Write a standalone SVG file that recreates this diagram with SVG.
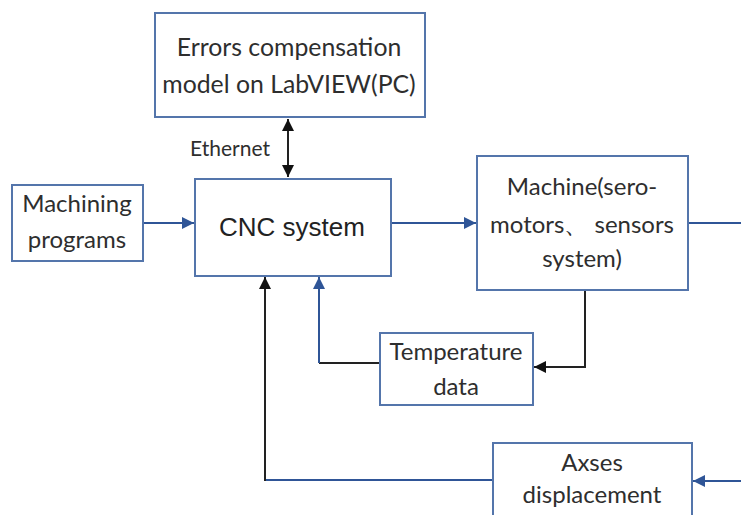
<svg xmlns="http://www.w3.org/2000/svg" width="741" height="515" viewBox="0 0 741 515">
<defs>
<style>
.box{fill:#fff;stroke:#5475ab;stroke-width:2}
.t{font-family:Lato,"Open Sans","Liberation Sans",sans-serif;fill:#2e2e2e;text-anchor:middle}
.a{font-family:"Liberation Sans",Arial,sans-serif;fill:#222;text-anchor:middle}
.bl{fill:none;stroke:#2f5597;stroke-width:2}
.bk{fill:none;stroke:#222;stroke-width:2}
</style>
<marker id="mbL" viewBox="0 0 10 10" refX="10" refY="5" markerWidth="14" markerHeight="12" markerUnits="userSpaceOnUse" orient="auto"><path d="M0,0L10,5L0,10z" fill="#2f5597"/></marker>
<marker id="mkL" viewBox="0 0 10 10" refX="10" refY="5" markerWidth="14" markerHeight="12" markerUnits="userSpaceOnUse" orient="auto"><path d="M0,0L10,5L0,10z" fill="#111"/></marker>
<marker id="mkS" viewBox="0 0 10 10" refX="0" refY="5" markerWidth="14" markerHeight="12" markerUnits="userSpaceOnUse" orient="auto"><path d="M10,0L0,5L10,10z" fill="#111"/></marker>
</defs>
<rect width="741" height="515" fill="#fff"/>
<g id="connectors">
<path class="bk" d="M288,119V177" marker-start="url(#mkS)" marker-end="url(#mkL)"/>
<text class="t" x="230" y="156" font-size="21">Ethernet</text>
<path class="bl" d="M143,223H194" marker-end="url(#mbL)"/>
<path class="bl" d="M391,223H476" marker-end="url(#mbL)"/>
<path class="bl" d="M688,223H741"/>
<path class="bk" d="M585,290V367H534" marker-end="url(#mkL)"/>
<path class="bk" d="M380,363H319"/>
<path class="bl" d="M319,363V277" marker-end="url(#mbL)"/>
<path class="bl" d="M493,480H265"/>
<path class="bk" d="M265,481V277" marker-end="url(#mkL)"/>
<path class="bl" d="M741,481H693" marker-end="url(#mbL)"/>
</g>
<g id="errors">
<rect class="box" x="155" y="13" width="270" height="104"/>
<text class="t" x="289" y="56" font-size="24.8">Errors compensation</text>
<text class="t" x="289" y="93" font-size="24.8">model on LabVIEW(PC)</text>
</g>
<g id="machining">
<rect class="box" x="12" y="185" width="131" height="76"/>
<text class="t" x="77" y="212" font-size="24">Machining</text>
<text class="t" x="77" y="248" font-size="24">programs</text>
</g>
<g id="cnc">
<rect class="box" x="195" y="179" width="196" height="97"/>
<text class="a" x="292" y="236" font-size="26">CNC system</text>
</g>
<g id="machine">
<rect class="box" x="477" y="156" width="211" height="134"/>
<text class="t" x="582" y="195" font-size="24">Machine(sero-</text>
<text class="t" x="582" y="233" font-size="24">motors、 sensors</text>
<text class="t" x="582" y="267" font-size="24">system)</text>
</g>
<g id="temperature">
<rect class="box" x="380" y="333" width="153" height="72"/>
<text class="t" x="456" y="360" font-size="24">Temperature</text>
<text class="t" x="456" y="395" font-size="24">data</text>
</g>
<g id="axses">
<rect class="box" x="493" y="443" width="199" height="80"/>
<text class="t" x="592" y="471" font-size="24">Axses</text>
<text class="t" x="592" y="503" font-size="24">displacement</text>
</g>
</svg>
